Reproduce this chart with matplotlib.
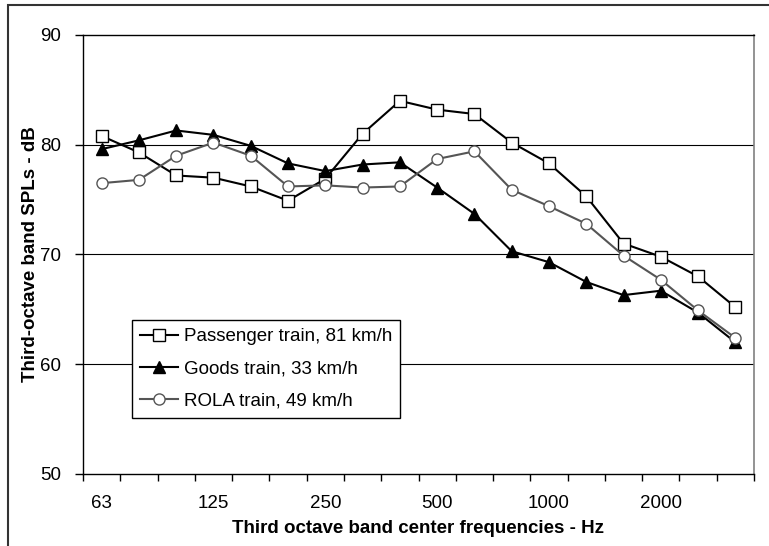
import numpy as np
import matplotlib.pyplot as plt
from matplotlib.patches import Rectangle

plt.rcParams['font.family'] = ['Liberation Sans', 'DejaVu Sans']

# Third octave band centre frequencies (Hz)
freqs = ['63', '80', '100', '125', '160', '200', '250', '315', '400',
         '500', '630', '800', '1000', '1250', '1600', '2000', '2500', '3150']
tick_labels = ['63', '125', '250', '500', '1000', '2000']

# SPL values (dB)
passenger = [80.8, 79.3, 77.2, 77.0, 76.2, 74.9, 76.9, 81.0, 84.0,
             83.2, 82.8, 80.2, 78.3, 75.3, 71.0, 69.8, 68.0, 65.2]
goods = [79.6, 80.4, 81.3, 80.9, 79.9, 78.3, 77.6, 78.2, 78.4,
         76.1, 73.7, 70.3, 69.3, 67.5, 66.3, 66.7, 64.7, 62.0]
rola = [76.5, 76.8, 79.0, 80.2, 79.0, 76.2, 76.3, 76.1, 76.2,
        78.7, 79.4, 75.9, 74.4, 72.8, 69.9, 67.7, 64.9, 62.4]

x = np.arange(len(freqs))

fig = plt.figure(figsize=(7.69, 5.46), dpi=100)
ax = fig.add_axes([83 / 769, 72 / 546, 671 / 769, 439 / 546])

# outer chart frame (cut off at right and bottom like the source)
fig.patches.append(Rectangle((8 / 769, -0.05), 1.1, 1.05 - 5.5 / 546,
                             transform=fig.transFigure, fill=False,
                             edgecolor='#333333', lw=1.5))

# horizontal gridlines
for yv in [60, 70, 80]:
    ax.axhline(yv, color='black', lw=0.8, zorder=1)

ax.plot(x, passenger, color='black', lw=1.5, marker='s', markersize=8,
        markerfacecolor='white', markeredgecolor='black', markeredgewidth=1,
        label='Passenger train, 81 km/h', zorder=3)
ax.plot(x, goods, color='black', lw=1.5, marker='^', markersize=8.5,
        markerfacecolor='black', markeredgecolor='black',
        label='Goods train, 33 km/h', zorder=3)
ax.plot(x, rola, color='#555555', lw=1.5, marker='o', markersize=8,
        markerfacecolor='white', markeredgecolor='#555555', markeredgewidth=1,
        label='ROLA train, 49 km/h', zorder=3)

ax.set_xlim(-0.5, len(freqs) - 0.5)
ax.set_ylim(50, 90)
ax.set_yticks([50, 60, 70, 80, 90])

# tick marks at band boundaries, labels at every third band
ax.set_xticks(np.arange(-0.5, len(freqs), 1.0))
ax.set_xticklabels([])
ax.set_xticks(x[::3], minor=True)
ax.set_xticklabels(tick_labels, minor=True)
ax.tick_params(axis='x', which='major', direction='out', length=5, width=1, color='black')
ax.tick_params(axis='x', which='minor', length=0, pad=15, labelsize=13.5)
ax.tick_params(axis='y', direction='out', length=6, width=1, pad=10, labelsize=13.5)

for side in ['left', 'bottom', 'top']:
    ax.spines[side].set_color('black')
    ax.spines[side].set_linewidth(1)
ax.spines['right'].set_color('#808080')
ax.spines['right'].set_linewidth(1.2)

ax.set_xlabel('Third octave band center frequencies - Hz', fontsize=13.5,
              fontweight='bold')
ax.xaxis.set_label_coords(0.5, -0.105)
ax.set_ylabel('Third-octave band SPLs - dB', fontsize=13.5, fontweight='bold')
ax.yaxis.set_label_coords(-0.066, 0.5)

leg = ax.legend(loc='lower left', bbox_to_anchor=(0.073, 0.1276),
                fontsize=13.5, frameon=True, fancybox=False, framealpha=1,
                edgecolor='black', handlelength=2.0, handletextpad=0.3,
                borderpad=0.45, labelspacing=0.8, borderaxespad=0)
leg.get_frame().set_linewidth(1)

fig.savefig('out.png', dpi=100)
